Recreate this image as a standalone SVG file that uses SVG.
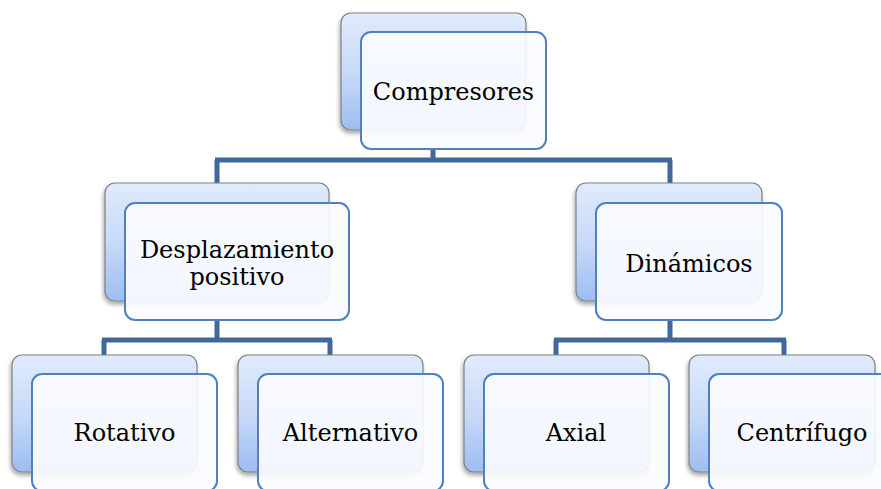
<svg xmlns="http://www.w3.org/2000/svg" width="881" height="489" viewBox="0 0 881 489">
<defs>
<linearGradient id="bg" x1="0" y1="0" x2="0" y2="1">
<stop offset="0" stop-color="#e0ebfc"/>
<stop offset="0.5" stop-color="#c8daf8"/>
<stop offset="1" stop-color="#9dbdf2"/>
</linearGradient>
<filter id="sh" x="-10%" y="-10%" width="125%" height="130%">
<feDropShadow dx="-1" dy="3" stdDeviation="2" flood-color="#000" flood-opacity="0.35"/>
</filter>
</defs>
<style>
.back{fill:url(#bg);stroke:#808080;stroke-width:1.2;filter:url(#sh)}
.front{fill:#fafbff;fill-opacity:0.92;stroke:#4f81bd;stroke-width:2}
.conn{fill:none;stroke:#41689b;stroke-width:5}
text{font-family:"DejaVu Serif","Liberation Serif",serif;font-size:24px;fill:#000;text-anchor:middle}
</style>
<g id="connectors">
<path class="conn" d="M433 149V160M215 160H672M217 160V183M670 160V183"/>
<path class="conn" d="M217 320V340M102 340H332M104 340V355M330 340V355"/>
<path class="conn" d="M670 320V340M554 340H786M556 340V355M784 340V355"/>
</g>
<g id="n-compresores">
<rect class="back" x="341" y="13" width="185" height="117" rx="10"/>
<rect class="front" x="361" y="32" width="185" height="117" rx="10"/>
<text x="453.5" y="100">Compresores</text>
</g>
<g id="n-desplazamiento">
<rect class="back" x="105" y="183" width="224" height="118" rx="10"/>
<rect class="front" x="125" y="203" width="224" height="117" rx="10"/>
<text x="237" y="258">Desplazamiento</text>
<text x="237" y="285">positivo</text>
</g>
<g id="n-dinamicos">
<rect class="back" x="576" y="183" width="186" height="118" rx="10"/>
<rect class="front" x="596" y="203" width="186" height="117" rx="10"/>
<text x="689" y="272">Dinámicos</text>
</g>
<g id="n-rotativo">
<rect class="back" x="12" y="355" width="185" height="117" rx="10"/>
<rect class="front" x="32" y="374" width="185" height="117" rx="10"/>
<text x="124.5" y="441">Rotativo</text>
</g>
<g id="n-alternativo">
<rect class="back" x="238" y="355" width="185" height="117" rx="10"/>
<rect class="front" x="258" y="374" width="185" height="117" rx="10"/>
<text x="350.5" y="441">Alternativo</text>
</g>
<g id="n-axial">
<rect class="back" x="464" y="355" width="185" height="117" rx="10"/>
<rect class="front" x="484" y="374" width="185" height="117" rx="10"/>
<text x="576" y="441">Axial</text>
</g>
<g id="n-centrifugo">
<rect class="back" x="689" y="355" width="186" height="117" rx="10"/>
<rect class="front" x="709" y="374" width="186" height="117" rx="10"/>
<text x="802" y="441">Centrífugo</text>
</g>
</svg>
